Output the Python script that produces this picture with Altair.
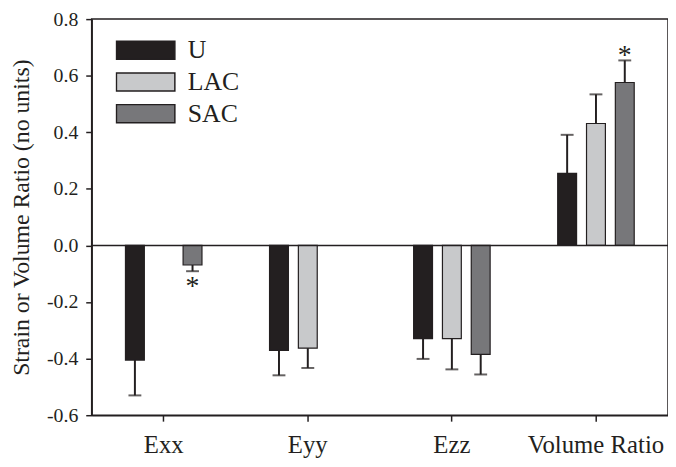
import altair as alt
import pandas as pd

categories = ["Exx", "Eyy", "Ezz", "Volume Ratio"]
series = ["U", "LAC", "SAC"]
colors = ["#231f20", "#c8c9cb", "#77777a"]

u_values = [-0.405, -0.371, -0.329, 0.255]
u_errors = [0.125, 0.088, 0.072, 0.136]
lac_values = [None, -0.363, -0.329, 0.431]
lac_errors = [None, 0.070, 0.109, 0.103]
sac_values = [-0.069, None, -0.385, 0.576]
sac_errors = [0.022, None, 0.071, 0.078]

star_categories = ["Exx", "Volume Ratio"]
star_series = ["SAC", "SAC"]
star_y = [-0.127, 0.69]

y_ticks = [-0.6, -0.4, -0.2, 0.0, 0.2, 0.4, 0.6, 0.8]

rows = []
for name, vals, errs in [("U", u_values, u_errors), ("LAC", lac_values, lac_errors), ("SAC", sac_values, sac_errors)]:
    for c, v, e in zip(categories, vals, errs):
        if v is None:
            continue
        end = v + e if v >= 0 else v - e
        rows.append({"category": c, "series": name, "value": v, "err_end": end})
df = pd.DataFrame(rows)
stars = pd.DataFrame({"category": star_categories, "series": star_series, "y": star_y})
zero = pd.DataFrame({"z": [0.0]})

FONT = "Liberation Serif"
INK = "#231f20"

x_scale = alt.Scale(domain=categories, paddingInner=0.4, paddingOuter=0.2)
xo_scale = alt.Scale(domain=series, paddingInner=0.345, paddingOuter=0.1725)
y_scale = alt.Scale(domain=[-0.6, 0.8], nice=False, zero=False)

x_enc = alt.X("category:N", scale=x_scale, sort=categories,
              axis=alt.Axis(title=None, labelAngle=0, labelFontSize=25, labelPadding=12,
                            tickSize=6, labelFont=FONT))
xo_enc = alt.XOffset("series:N", scale=xo_scale, sort=series)
y_axis = alt.Axis(values=y_ticks,
                  labelExpr="datum.value < -0.0001 ? '-' + format(-datum.value, '.1f') : format(abs(datum.value), '.1f')",
                  title="Strain or Volume Ratio (no units)", titleFont=FONT, titleFontSize=24,
                  titleFontWeight="normal", titleColor=INK, titlePadding=13,
                  labelFontSize=20, labelPadding=8, tickSize=6, labelFont=FONT)

bars = alt.Chart(df).mark_bar(stroke=INK, strokeWidth=1.2).encode(
    x=x_enc,
    xOffset=xo_enc,
    y=alt.Y("value:Q", scale=y_scale, axis=y_axis),
    color=alt.Color("series:N", scale=alt.Scale(domain=series, range=colors), sort=series,
                    legend=alt.Legend(title=None, orient="none", legendX=24, legendY=19.5,
                                      symbolType="M-1,-0.31L1,-0.31L1,0.31L-1,0.31Z",
                                      symbolSize=3481, symbolStrokeColor=INK,
                                      symbolStrokeWidth=1.5, symbolOpacity=1,
                                      clipHeight=24,
                                      labelFont=FONT, labelFontSize=26, labelColor=INK,
                                      labelOffset=12, rowPadding=6)),
)

err = alt.Chart(df).mark_rule(color=INK, strokeWidth=2).encode(
    x=x_enc, xOffset=xo_enc,
    y=alt.Y("value:Q", scale=y_scale), y2="err_end:Q",
)
caps = alt.Chart(df).mark_tick(color=INK, size=13, thickness=2).encode(
    x=x_enc, xOffset=xo_enc,
    y=alt.Y("err_end:Q", scale=y_scale),
)
zero_line = alt.Chart(zero).mark_rule(color=INK, strokeWidth=1.5).encode(
    y=alt.Y("z:Q", scale=y_scale),
)
star_text = alt.Chart(stars).mark_text(text="*", font=FONT, fontSize=28, color=INK,
                                       baseline="middle", dy=6).encode(
    x=x_enc, xOffset=xo_enc,
    y=alt.Y("y:Q", scale=y_scale),
)

chart = alt.layer(bars, zero_line, err, caps, star_text).properties(
    width=582, height=400,
    autosize=alt.AutoSizeParams(type="none"),
    padding={"left": 84.5, "top": 9, "right": 0, "bottom": 42},
).configure_view(stroke=INK, strokeWidth=1.5).configure_axis(
    domainColor=INK, domainWidth=1.5, tickColor=INK, tickWidth=1.5,
    labelColor=INK, grid=False,
)

chart.save("out.html", embed_options={"renderer": "svg", "actions": False})
